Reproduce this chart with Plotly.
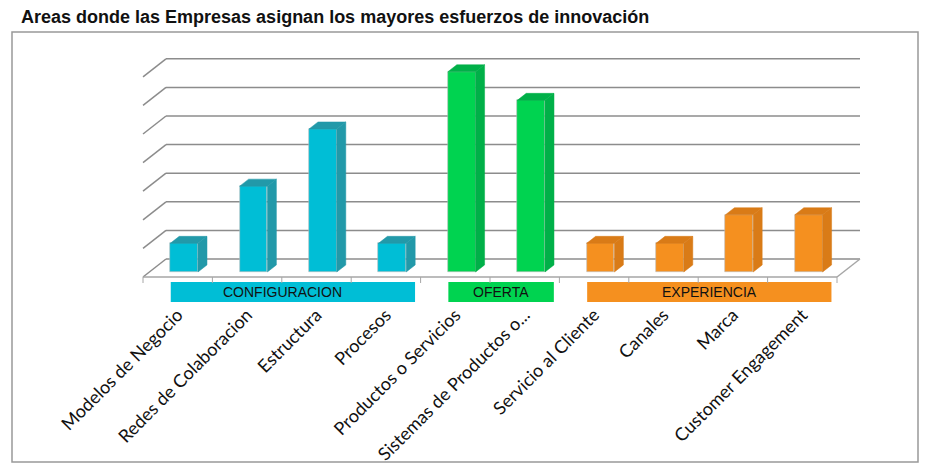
import plotly.graph_objects as go

# ---------------- data ----------------
categories = ["Modelos de Negocio", "Redes de Colaboracion", "Estructura", "Procesos",
              "Productos o Servicios", "Sistemas de Productos o...", "Servicio al Cliente",
              "Canales", "Marca", "Customer Engagement"]
values = [1, 3, 5, 1, 7, 6, 1, 1, 2, 2]
groups = ["CONFIGURACION", "OFERTA", "EXPERIENCIA"]
group_start = [0, 4, 6]
group_end = [3, 5, 9]
grid_levels = [0, 1, 2, 3, 4, 5, 6, 7]
title = "Areas donde las Empresas asignan los mayores esfuerzos de innovación"

# ---------------- styles ----------------
front_colors = ["#00BED6", "#00D350", "#F5901F"]
dark_colors = ["#2299A9", "#00B048", "#D97B17"]
label_shift_px = [-10, 0, 0]
grid_color = "#8C8C8C"

W, H = 931, 470
OFF = 8.0        # page body margin
PX_X = 69.4      # pixels per category
PX_Y = 28.6      # pixels per value unit
X0 = 177.7 - OFF  # pixel x of category 0 (front floor)
Y0 = 277.0 - OFF  # pixel y of value 0 (front floor)
DEPTH_PX_X, DEPTH_PX_Y = 23.0, 18.0
DX = DEPTH_PX_X / PX_X
DY = DEPTH_PX_Y / PX_Y
DF, DB = 0.28, 0.67   # bar front/back depth
HW = 0.2              # bar half width
PLOT_BOTTOM = 300.0 - OFF
XMIN = (0 - X0) / PX_X
XMAX = (W - X0) / PX_X

def P(x, v, d):
    return x + DX * d, v + DY * d

def paper_x(px):
    return (px - OFF) / W

def paper_y(py):
    return (PLOT_BOTTOM - (py - OFF)) / PLOT_BOTTOM

def xdata_to_paper(x):
    return (x - XMIN) / (XMAX - XMIN)

n = len(categories)
gidx = []
for i in range(n):
    for g in range(len(groups)):
        if group_start[g] <= i <= group_end[g]:
            gidx.append(g)

fig = go.Figure()

# front faces
fig.add_trace(go.Bar(
    x=[i + DX * DF for i in range(n)], y=values, base=DY * DF, width=2 * HW,
    marker=dict(color=[front_colors[g] for g in gidx], line=dict(color="#BBBBBB", width=0.6)),
    hoverinfo="skip", showlegend=False))

# side & top faces
for i, v in enumerate(values):
    c = dark_colors[gidx[i]]
    side = [P(i + HW, 0, DF), P(i + HW, v, DF), P(i + HW, v, DB), P(i + HW, 0, DB), P(i + HW, 0, DF)]
    top = [P(i - HW, v, DF), P(i + HW, v, DF), P(i + HW, v, DB), P(i - HW, v, DB), P(i - HW, v, DF)]
    for poly in (side, top):
        fig.add_trace(go.Scatter(x=[p[0] for p in poly], y=[p[1] for p in poly],
                                 mode="lines", fill="toself", fillcolor=c,
                                 line=dict(color=c, width=0.5), hoverinfo="skip",
                                 showlegend=False))

shapes = []
def line(p1, p2, color=grid_color, width=1.5):
    shapes.append(dict(type="line", xref="x", yref="y", x0=p1[0], y0=p1[1], x1=p2[0], y1=p2[1],
                       line=dict(color=color, width=width), layer="below"))

xl, xr = -0.5, n - 0.5
for lv in grid_levels:
    line(P(xl, lv, 1), P(xr, lv, 1))
    line(P(xl, lv, 0), P(xl, lv, 1))
line(P(xl, 0, 0), P(xr, 0, 0), color="#A6A6A6")
line(P(xr, 0, 0), P(xr, 0, 1), color="#A6A6A6")
for k in range(n + 1):
    line(P(xl + k, 0, 0), P(xl + k, -6 / PX_Y, 0), color="#A6A6A6", width=1)

annotations = []
for g, name in enumerate(groups):
    xa = xdata_to_paper(group_start[g] - 0.1)
    xb = xdata_to_paper(group_end[g] + 0.42)
    ya = paper_y(282)
    yb = paper_y(302)
    shapes.append(dict(type="rect", xref="paper", yref="paper", x0=xa, x1=xb, y0=yb, y1=ya,
                       fillcolor=front_colors[g], line=dict(width=0), layer="below"))
    annotations.append(dict(x=(xa + xb) / 2, y=(ya + yb) / 2, xref="paper", yref="paper",
                            xanchor="center", yanchor="middle",
                            xshift=label_shift_px[g],
                            text=name, showarrow=False,
                            font=dict(family="Liberation Sans, Arial", size=14, color="#111111")))

# border and title
shapes.append(dict(type="rect", xref="paper", yref="paper",
                   x0=paper_x(12), x1=paper_x(918), y0=paper_y(462), y1=paper_y(32),
                   line=dict(color="#999999", width=1.5), layer="below"))
annotations.append(dict(x=paper_x(19), y=paper_y(17), xref="paper", yref="paper",
                        xanchor="left", yanchor="middle", text="<b>" + title + "</b>",
                        showarrow=False,
                        font=dict(family="Liberation Sans, Arial", size=18, color="#111111")))

fig.update_layout(
    width=W, height=H,
    margin=dict(l=0, r=0, t=0, b=H - PLOT_BOTTOM, pad=0),
    paper_bgcolor="white", plot_bgcolor="white",
    shapes=shapes, annotations=annotations,
    xaxis=dict(range=[XMIN, XMAX], showgrid=False, zeroline=False,
               showline=False, tickmode="array", tickvals=list(range(n)), ticktext=categories,
               tickangle=-45, ticks="",
               tickfont=dict(family="Lato", size=18, color="#111111"),
               fixedrange=True),
    yaxis=dict(range=[(Y0 - PLOT_BOTTOM) / PX_Y, Y0 / PX_Y], showgrid=False, zeroline=False,
               showline=False, showticklabels=False, fixedrange=True),
    bargap=0,
)

fig.write_html("out.html")
